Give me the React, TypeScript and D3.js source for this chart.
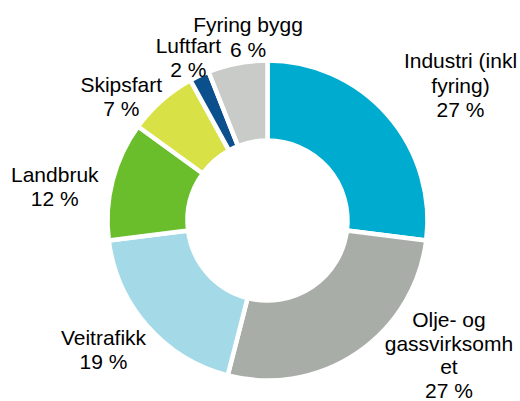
import React, { useRef, useEffect } from "react";
import * as d3 from "d3";

// Kilder til utslipp, andel i prosent
const categories = ["Industri", "Olje og gass", "Veitrafikk", "Landbruk", "Skipsfart", "Luftfart", "Fyring bygg"];
const values = [27, 27, 19, 12, 7, 2, 6];
const nameLines = [
  ["Industri (inkl", "fyring)"],
  ["Olje- og", "gassvirksomh", "et"],
  ["Veitrafikk"],
  ["Landbruk"],
  ["Skipsfart"],
  ["Luftfart"],
  ["Fyring bygg"],
];
const colors = ["#00abd0", "#a9ada8", "#a4dae8", "#6abd2b", "#d8e246", "#0b4f8d", "#c8cbc7"];

// label nudges from the label-arc centroid (px)
const labelNudge = [
  [43, -3],
  [69, -31],
  [-14, -3],
  [-19, 16],
  [-14, 26],
  [6, 18],
  [18, 13],
];

const W = 520;
const H = 401;

const App = () => {
  const svgRef = useRef(null);

  useEffect(() => {
    const svg = d3.select(svgRef.current);
    svg.selectAll("*").remove();

    const cx = 267.5;
    const cy = 220.5;
    const outerR = 160;
    const innerR = 80;

    const data = categories.map((c, i) => ({ name: c, value: values[i], i }));

    const pie = d3.pie<any>().sort(null).value(d => d.value);
    const arcs = pie(data);

    const arc = d3.arc<any>().innerRadius(innerR).outerRadius(outerR);
    const labelArc = d3.arc<any>().innerRadius(200).outerRadius(200);

    const g = svg.append("g").attr("transform", `translate(${cx},${cy})`);

    g.selectAll("path.slice")
      .data(arcs)
      .join("path")
      .attr("class", "slice")
      .attr("d", arc)
      .attr("fill", d => colors[d.data.i])
      .attr("stroke", "#ffffff")
      .attr("stroke-width", 4.5)
      .attr("stroke-linejoin", "miter");

    const fs = 21;
    const lh = 24.3;

    const labels = g.selectAll("text.lbl")
      .data(arcs)
      .join("text")
      .attr("class", "lbl")
      .attr("text-anchor", "middle")
      .attr("font-family", "'Liberation Sans', Arial, sans-serif")
      .attr("font-size", fs)
      .attr("fill", "#000000");

    labels.each(function (d) {
      const [px, py] = labelArc.centroid(d);
      const [nx, ny] = labelNudge[d.data.i];
      const lines = [...nameLines[d.data.i], `${d.data.value} %`];
      const x = px + nx;
      // Olje label sits at the bottom edge, so keep its lines a bit tighter
      const step = lines.length > 3 ? 23.6 : lh;
      const firstBase = py + ny + 7.5 - ((lines.length - 1) * step) / 2;
      d3.select(this)
        .selectAll("tspan")
        .data(lines)
        .join("tspan")
        .attr("x", x)
        .attr("y", (_, k) => firstBase + k * step)
        .text(t => t);
    });
  }, []);

  return (
    <div style={{ position: "absolute", left: 0, top: 0, width: W, height: H, background: "#ffffff" }}>
      <svg ref={svgRef} width={W} height={H} style={{ display: "block" }} />
    </div>
  );
};

export default App;
